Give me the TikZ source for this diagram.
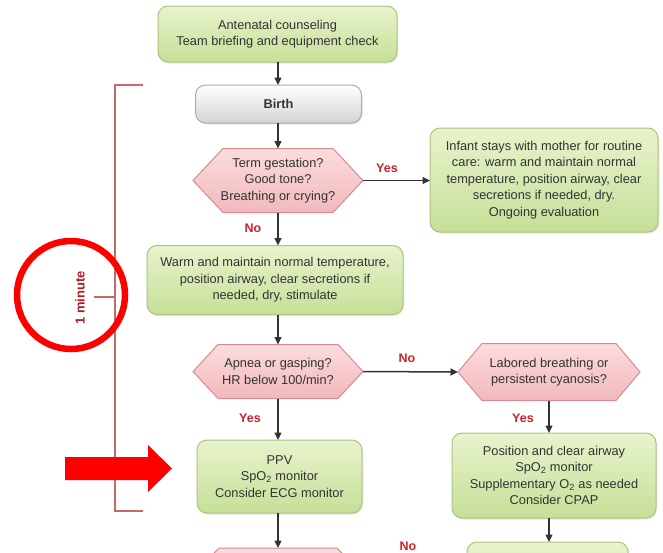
\documentclass[tikz,border=0pt]{standalone}
\usepackage{fontspec}
\setmainfont{Liberation Sans}
\usetikzlibrary{arrows.meta,backgrounds,shadows}

\definecolor{greenTop}{HTML}{E8F3CC}
\definecolor{greenBot}{HTML}{C6DF98}
\definecolor{greenLine}{HTML}{A7C67C}
\definecolor{pinkTop}{HTML}{FBDCDE}
\definecolor{pinkBot}{HTML}{F2B8BC}
\definecolor{pinkLine}{HTML}{D58C90}
\definecolor{greyBot}{HTML}{D4D4D4}
\definecolor{greyLine}{HTML}{ABABAB}
\definecolor{txt}{HTML}{333333}
\definecolor{lbl}{HTML}{D0202A}
\definecolor{brk}{HTML}{C46A6A}

% hexagonal decision outline drawn behind a named text node
\newcommand\drawhex[2]{%
  \begin{scope}[on background layer]
    \path[hexfill] (#1.west) -- ([xshift=#2]#1.north west) -- ([xshift=-#2]#1.north east)
      -- (#1.east) -- ([xshift=-#2]#1.south east) -- ([xshift=#2]#1.south west) -- cycle;
  \end{scope}}

\tikzset{
  base/.style={align=center, text=txt, font=\fontsize{12.8}{16.5}\selectfont,
    inner sep=0pt, outer sep=0pt},
  softshadow/.style={drop shadow={opacity=0.18, shadow xshift=1pt, shadow yshift=-1.5pt}},
  greenbox/.style={base, rounded corners=10pt, draw=greenLine, line width=1pt,
    top color=greenTop, bottom color=greenBot, softshadow},
  greybox/.style={base, rounded corners=10pt, draw=greyLine, line width=1pt,
    top color=white, bottom color=greyBot, softshadow},
  hexfill/.style={draw=pinkLine, line width=1pt, top color=pinkTop, bottom color=pinkBot},
  arr/.style={draw=txt, line width=1.5pt, -{Triangle[length=7.5pt,width=7pt]}},
  lab/.style={text=lbl, inner sep=0pt, font=\bfseries\fontsize{12.5}{15}\selectfont},
}

\begin{document}
\begin{tikzpicture}[x=1pt,y=-1pt]
\useasboundingbox (0,0) rectangle (663,552);
\clip (0,0) rectangle (663,552);

% main column
\node[greenbox, minimum width=239pt, minimum height=56pt] (counsel) at (277.5,34)
  {Antenatal counseling\\Team briefing and equipment check};
\node[greybox, minimum width=166pt, minimum height=38pt,
  font=\bfseries\fontsize{12.8}{16.5}\selectfont] (birth) at (278.5,104) {Birth};
\node[base, minimum width=170pt, minimum height=64pt] (q1) at (278,180.5)
  {Term gestation?\\Good tone?\\Breathing or crying?};
\drawhex{q1}{30pt}
\node[greenbox, minimum width=228pt, minimum height=104pt] (routine) at (544,180)
  {Infant stays with mother for routine\\care: warm and maintain normal\\temperature, position airway, clear\\secretions if needed, dry.\\Ongoing evaluation};
\node[greenbox, minimum width=256pt, minimum height=69pt] (warm) at (275,280)
  {Warm and maintain normal temperature,\\position airway, clear secretions if\\needed, dry, stimulate};
\node[base, minimum width=170pt, minimum height=54pt] (q2) at (278,371.5)
  {Apnea or gasping?\\HR below 100/min?};
\drawhex{q2}{25pt}
\node[base, minimum width=182pt, minimum height=57pt] (q3) at (549,372)
  {Labored breathing or\\persistent cyanosis?};
\drawhex{q3}{24pt}
\node[greenbox, minimum width=165pt, minimum height=73pt] (ppv) at (279.5,476.5)
  {PPV\\SpO\textsubscript{2} monitor\\Consider ECG monitor};
\node[greenbox, minimum width=204pt, minimum height=85pt] (support) at (554,475.5)
  {Position and clear airway\\SpO\textsubscript{2} monitor\\Supplementary O\textsubscript{2} as needed\\Consider CPAP};

% next steps, running off the lower edge
\node[base, minimum width=170pt, minimum height=54pt] (q4) at (278,575) {};
\drawhex{q4}{26pt}
\node[greenbox, minimum width=161pt, minimum height=76pt] (nextcare) at (547.5,580) {};

% connectors
\draw[arr] (counsel.south -| q1) -- (birth.north -| q1);
\draw[arr] (birth.south -| q1) -- (q1.north);
\draw[arr] (q1.east) -- (q1.east -| routine.west);
\draw[arr] (q1.south) -- (warm.north -| q1);
\draw[arr] (warm.south -| q2) -- (q2.north);
\draw[arr] (q2.east) -- (q3.west);
\draw[arr] (q2.south) -- (ppv.north -| q2);
\draw[arr] (q3.south) -- (support.north -| q3);
\draw[arr] (ppv.south -| q2) -- (q4.north);
\draw[arr] (support.south -| q3) -- (nextcare.north -| q3);

% branch labels
\node[lab] (yes1) at (387,168) {Yes};
\node[lab] (no1) at (253,228) {No};
\node[lab] (no2) at (407,358) {No};
\node[lab] (yes2) at (250,418) {Yes};
\node[lab] (yes3) at (523,418) {Yes};
\node[lab, anchor=north] (no3) at (408,541.5) {No};

% one-minute bracket
\coordinate (bt) at (143,85);
\coordinate (bb) at (143,511);
\draw[brk, line width=1.5pt] (bt) -- (115,85) -- (115,511) -- (bb);
\draw[brk, line width=1.5pt] (94,297) -- (115,297);
\node[rotate=90, text=lbl!85!black, inner sep=0pt,
  font=\bfseries\fontsize{13}{15}\selectfont] (oneminute) at (80,298) {1 minute};

% highlight circle and pointer arrow
\draw[red, line width=6.5pt] (71,295) circle[radius=54pt];
\fill[red] (65,457) -- (148,457) -- (148,445) -- (172,468.5) -- (148,492)
  -- (148,480) -- (65,480) -- cycle;
\end{tikzpicture}
\end{document}
